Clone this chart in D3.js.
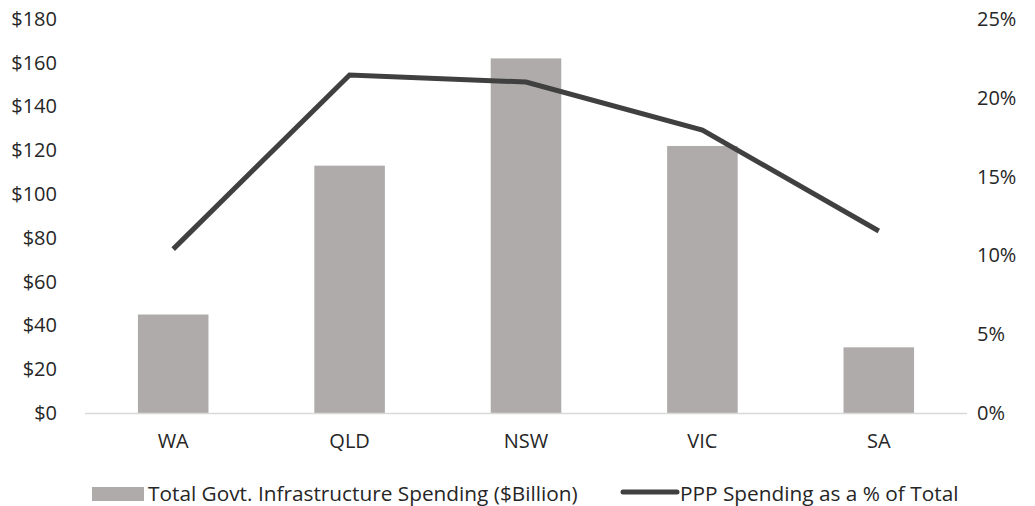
<!DOCTYPE html>
<html>
<head>
<meta charset="utf-8">
<script src="https://cdn.jsdelivr.net/npm/d3@7"></script>
<style>
  body { margin: 0; background: #fff; }
  text { font-family: "Open Sans", sans-serif; font-weight: 400; fill: #262626; }
</style>
</head>
<body>
<svg id="chart" width="1035" height="506"></svg>
<script>
// chart data
let states = ['WA', 'QLD', 'NSW', 'VIC', 'SA']
let spending = [45, 113, 162, 122, 30]
let pppShare = [10.4, 21.45, 21.0, 17.95, 11.55]
let leftTicks = [0, 20, 40, 60, 80, 100, 120, 140, 160, 180]
let rightTicks = [0, 5, 10, 15, 20, 25]
let barLabel = 'Total Govt. Infrastructure Spending ($Billion)'
let lineLabel = 'PPP Spending as a % of Total'

let svg = d3.select('#chart')
let plotTop = 19, plotBottom = 413, plotLeft = 85, plotRight = 967
let fontSize = 20

let xScale = d3.scaleBand(states, [plotLeft, plotRight]).paddingInner(0.6).paddingOuter(0.3)
let yLeft = d3.scaleLinear([0, 180], [plotBottom, plotTop])
let yRight = d3.scaleLinear([0, 25], [plotBottom, plotTop])

// left axis
let leftAxis = svg.append('g')
    .attr('transform', `translate(${plotLeft}, 0)`)
    .call(d3.axisLeft(yLeft).tickValues(leftTicks).tickSize(0).tickPadding(28).tickFormat((d) => {return '$' + d}))
leftAxis.select('.domain').remove()
leftAxis.selectAll('text').attr('font-size', fontSize).attr('fill', '#262626').attr('font-family', null)

// right axis
let rightAxis = svg.append('g')
    .attr('transform', `translate(${plotRight}, 0)`)
    .call(d3.axisRight(yRight).tickValues(rightTicks).tickSize(0).tickPadding(10).tickFormat((d) => {return d + '%'}))
rightAxis.select('.domain').remove()
rightAxis.selectAll('text').attr('font-size', fontSize).attr('fill', '#262626').attr('font-family', null)

// bars
svg.append('g').selectAll('rect')
    .data(states)
    .join('rect')
    .attr('x', (d) => {return xScale(d)})
    .attr('y', (d, i) => {return yLeft(spending[i])})
    .attr('width', xScale.bandwidth())
    .attr('height', (d, i) => {return yLeft(0) - yLeft(spending[i])})
    .attr('fill', '#afabab')

// baseline
svg.append('line')
    .attr('x1', plotLeft).attr('x2', plotRight)
    .attr('y1', plotBottom + 0.5).attr('y2', plotBottom + 0.5)
    .attr('stroke', '#d9d9d9').attr('stroke-width', 1.5)

// x axis labels
let xAxis = svg.append('g')
    .attr('transform', `translate(0, ${plotBottom})`)
    .call(d3.axisBottom(xScale).tickSize(0).tickPadding(21))
xAxis.select('.domain').remove()
xAxis.selectAll('text').attr('font-size', fontSize).attr('fill', '#262626').attr('font-family', null)

// line
let line = d3.line()
    .x((d, i) => {return xScale(states[i]) + xScale.bandwidth() / 2})
    .y((d) => {return yRight(d)})
svg.append('path')
    .datum(pppShare)
    .attr('d', line)
    .attr('fill', 'none')
    .attr('stroke', '#404040')
    .attr('stroke-width', 5)

// legend
let legend = svg.append('g').attr('transform', 'translate(0, 494)')
legend.append('rect').attr('x', 92).attr('y', -7).attr('width', 52).attr('height', 14).attr('fill', '#afabab')
legend.append('text').attr('x', 148).attr('y', 0).attr('dy', '0.35em').attr('font-size', 20.8).text(barLabel)
legend.append('line').attr('x1', 623).attr('x2', 677).attr('y1', -2).attr('y2', -2)
    .attr('stroke', '#404040').attr('stroke-width', 5).attr('stroke-linecap', 'round')
legend.append('text').attr('x', 680).attr('y', 0).attr('dy', '0.35em').attr('font-size', 20.8).text(lineLabel)
</script>
</body>
</html>
